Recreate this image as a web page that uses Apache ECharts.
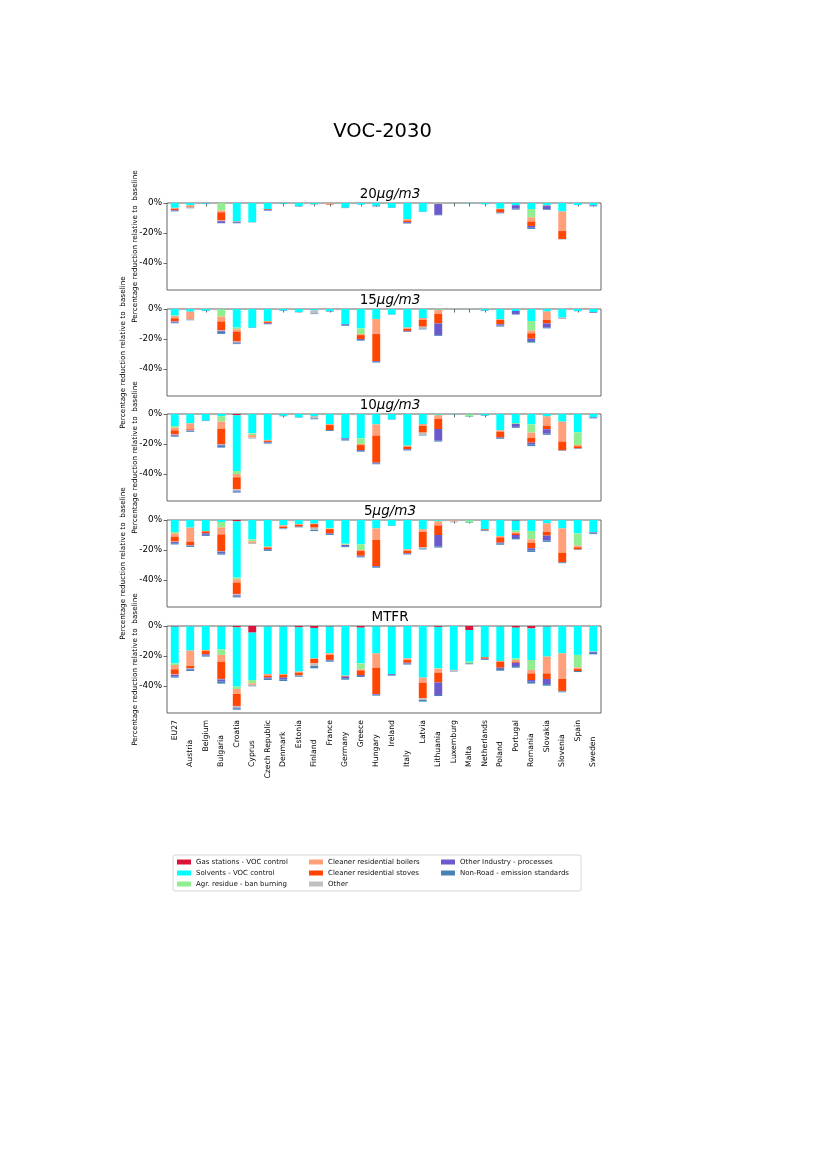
<!DOCTYPE html>
<html><head><meta charset="utf-8">
<script src="https://cdn.jsdelivr.net/npm/echarts@6/dist/echarts.min.js"></script>
<style>html,body{margin:0;padding:0;background:#fff}#c{width:827px;height:1169px}</style>
</head><body><div id="c"></div>
<script>
const countries = ['EU27','Austria','Belgium','Bulgaria','Croatia','Cyprus','Czech Republic','Denmark','Estonia','Finland','France','Germany','Greece','Hungary','Ireland','Italy','Latvia','Lithuania','Luxemburg','Malta','Netherlands','Poland','Portugal','Romania','Slovakia','Slovenia','Spain','Sweden'];
const panelNames = ['20', '15', '10', '5', 'MTFR'];
const measures = ['Gas stations - VOC control','Solvents - VOC control','Agr. residue - ban burning','Cleaner residential boilers','Cleaner residential stoves','Other','Other Industry - processes','Non-Road - emission standards'];
const yTicks = [0, -20, -40];

// Reduction (%) per country, scenario 20 µg/m3
const gas_20   = [0,0,0,0,0,0,0,0,0,0,0,0,0,0,0,0,0,0,0,0,0,0,0,0,0,0,0,0];
const solv_20  = [3.2,1.5,0.5,0,12.2,12.7,4,0.5,2.0,0.8,0.2,3.1,1.1,1.8,3.1,10.8,5.8,0.3,0.1,0.2,0.8,3.8,1.5,4,1.5,5.6,1.3,1.6];
const agr_20   = [0.2,0,0,5,0,0,0,0,0,0,0,0,0,0,0,0,0,0,0,0,0,0,0,5.6,0,0,0,0];
const boil_20  = [0.5,0.9,0,1.2,0.3,0,0,0,0,0,0.6,0,0,0,0,0.9,0,0.4,0,0,0,0.3,0,2.8,0.3,13.1,0,0];
const stove_20 = [0.8,0.5,0,5.5,0,0,0.5,0,0,0,0.3,0,0,0,0,1.1,0,0,0,0,0,2.2,0,2.9,0,5.3,0,0];
const other_20 = [0.2,0.3,0,0.4,0,0,0,0,0,0.4,0,0,0,0,0,0,0,0,0,0,0,0,0,0,0,0,0,0];
const ind_20   = [0.4,0,0,1.2,0.7,0,0.5,0,0,0,0,0,0,0.3,0,0.6,0,7.2,0,0,0,0.3,2.3,1.2,2.3,0,0,0.4];
const nr_20    = [0.3,0.3,0.2,0.2,0.3,0.2,0.2,0.2,0.3,0.1,0.1,0.3,0.1,0.2,0.2,0.3,0.2,0.3,0,0,0.1,0.3,0.6,0.8,0.5,0.2,0.1,0.2];

// 15 µg/m3
const gas_15   = [0,0,0,0,0,0,0,0,0,0,0,0,0,0,0,0,0,0,0,0,0,0,0,0,0,0,0,0];
const solv_15  = [4.4,1.8,1.1,0.3,12.4,12.4,8,1.0,2.0,0.8,1.3,10.2,12.9,6.7,3.6,12.4,6,0.3,0.1,0.1,1.0,6.9,1.3,8,1.6,5.8,1.3,2.0];
const agr_15   = [0.3,0,0,4.7,1.1,0,0,0,0,0,0,0,3.8,0,0,0,0,0.3,0,0,0,0,0,6.4,0,0,0,0];
const boil_15  = [1.5,4.9,0,3.3,1.5,0,0.6,0,0,0,0,0,0.7,10,0,0.9,1.3,2.7,0,0,0,0.3,0,1.8,5.7,0.6,0,0];
const stove_15 = [2,0.2,0,6.0,6.7,0,0.7,0,0,0,0,0,2.6,18,0,1.3,4.5,6.3,0,0,0,3.0,0,3.6,2.3,0,0,0];
const other_15 = [0.2,0.3,0,0.3,0.6,0,0,0,0,2.2,0,0,0,0,0,0,1.3,0,0,0,0,0,0,0,0,0,0,0];
const ind_15   = [0.7,0,0,0.6,0.6,0,0.5,0,0,0,0,0.6,0.6,0.5,0,0.4,0,7.7,0,0,0,0.8,2.0,1.5,2.8,0,0,0.4];
const nr_15    = [0.4,0.3,0.3,1.4,0.5,0.2,0.4,0.3,0.2,0.4,0.4,0.5,0.5,0.5,0.2,0.3,0.5,0.6,0,0,0.3,0.7,0.4,1.1,0.5,0.2,0.2,0.2];

// 10 µg/m3
const gas_10   = [0,0,0,0,0.8,0,0,0,0,0,0,0,0,0,0,0,0,0,0,0,0,0,0,0,0,0,0,0];
const solv_10  = [8,6.2,4.4,1.5,37.2,12.9,17.3,1.2,2.2,1.3,6.7,16.2,16.2,6.9,3.6,21.1,6.7,0.5,0.2,0.3,1.0,10.9,6,6.9,1.6,5.1,12.2,2.2];
const agr_10   = [1.1,0,0,3.5,2.0,1.1,0,0,0,0,0,0,3.8,0,0,0,0,0.3,0,1.5,0,0,0.6,5.5,0,0,8.5,0];
const boil_10  = [1.8,4,0,4.8,2.2,1.8,0.6,0,0,0,0.7,0,0.7,7.5,0,0.7,1.3,2.5,0,0,0,0.9,0,3.4,6.2,13.3,0.8,0];
const stove_10 = [2.7,0.5,0,10.4,8.0,0,0.7,0,0,0,3.3,0,3.3,18,0,1.7,4.4,6.7,0,0,0,3.8,0,3.3,2.4,5.8,1.4,0];
const other_10 = [0.3,0.4,0,0.3,0.9,0.3,0,0,0,1.6,0,0,0,0,0,0,1.5,0,0,0,0,0,0,0,0,0,0,0];
const ind_10   = [0.6,0.4,0,0.6,0.6,0,0.5,0,0,0,0,0.7,0.6,0.5,0,0.4,0,7.8,0,0,0,0.5,2.0,1.3,2.9,0,0,0.4];
const nr_10    = [0.6,0.5,0.3,1.3,0.7,0.2,0.6,0.3,0.2,0.6,0.6,0.8,0.5,0.6,0.2,0.4,0.4,0.6,0,0.2,0.3,0.5,0.6,1.0,0.8,0.3,0.3,0.3];

// 5 µg/m3
const gas_5    = [0,0,0,0,0.9,0,0,0,0,0,0,0,0,0,0,0,0,0,0,0,0,0,0.4,0,0,0,0,0];
const solv_5   = [8,5.1,7.3,1.3,37.5,12.9,17.8,3.6,2.7,2.4,5.3,15.8,16.2,5.6,3.8,19.6,6.2,0.6,0.2,0.3,6.2,10.7,6.7,7.3,2.2,5.6,8.9,8];
const agr_5    = [0.9,0,0,3.6,1.1,1.3,0,0,0,0,0.4,0.6,3.8,0,0,0,0,0.3,0,1.5,0,0,1.1,5.6,0,0,8.2,0];
const boil_5   = [2.2,9.3,0.3,4.7,2.2,1.3,0.6,0.8,0.6,0.3,0.4,0.3,0.7,7.7,0,0.9,1.8,2.7,0.8,0,0,0.9,0.7,2.2,5.8,16.2,1.1,0.3];
const stove_5  = [3.3,2.3,1.3,11.1,7.6,0,1.1,1.0,1.1,2.4,2.8,0,3.1,17.4,0,1.7,10.2,6.4,0,0,0.6,3.5,1.1,3.8,2.4,6.4,1.4,0];
const other_5  = [0.3,0.3,0,0.3,0.9,0.2,0,0.3,0,1.6,0,0,0,0,0,0,0.8,0,0.3,0,0,0,0,0,0,0,0,0];
const ind_5    = [0.8,0.4,1.0,1.2,0.6,0,0.5,0,0,0,0.5,0.7,0.6,0.5,0,0.4,0,7.8,0,0,0.2,0.6,2.0,1.3,3.2,0,0,0.5];
const nr_5     = [0.8,0.6,0.7,0.9,0.8,0.2,0.6,0.4,0.5,0.7,0.6,0.7,0.5,0.6,0.2,0.4,0.6,0.6,0.2,0.2,0.4,0.8,0.9,1.1,1.0,0.6,0.3,0.6];

// MTFR
const gas_m    = [0.4,0.2,0,0.3,0.9,4.4,0.3,0.3,0.9,1.3,0.4,0,1.1,0.2,0.3,0.1,0,0.6,0,2.7,0,0.3,1.1,1.6,0.4,0.1,0,0];
const solv_m   = [24.5,16.2,16,15.3,39.5,31.6,31.7,31.7,29.5,20.3,17.8,33.1,23.8,18.0,31.7,21.5,34.4,27.6,29.3,21.1,20.9,23.0,20.5,21.1,20,18.1,19.3,17.1];
const agr_m    = [1.1,0,0,3.7,1.6,2.2,0,0,0,0,0,0,4.0,0,0,0,0,0.3,0,1.1,0,0,1.1,6.6,0,0,8.3,0];
const boil_m   = [2.9,10.3,0.7,4.5,3.3,1.1,1.1,0.7,0.7,0.3,1.1,0.3,0.7,9.6,0,1.1,3.4,2.6,0.5,0,0,0.5,1.1,2.3,11.2,17.1,1.1,0.3];
const stove_m  = [3.3,1.5,2.2,11.5,8.0,0,1.3,1.7,1.6,3.0,3.3,0.4,3.1,17.5,0,1.8,10.4,6.5,0,0,0.9,4.0,0.7,4.4,3.7,8.0,1.3,0];
const other_m  = [0.3,0.3,0,0.3,1.1,0.5,0,0,0.3,1.8,0,0,0,0,0,0,1.1,0,0.3,0,0,0,0,0,0,0.3,0,0];
const ind_m    = [1.0,0.6,0.8,1.5,0.5,0,0.7,1.3,0,0,0.5,1.0,0.7,0.5,0.5,0.5,0,8.4,0,0,0.3,0.8,2.2,1.2,3.4,0,0,0.6];
const nr_m     = [0.9,0.9,0.7,1.3,0.9,0.4,0.9,1.0,0.8,1.5,0.7,1.0,0.6,0.6,0.6,0.7,1.1,0.7,0.3,0.6,0.5,1.2,1.1,1.2,1.1,0.6,0.7,0.9];

const panels = [
  [gas_20, solv_20, agr_20, boil_20, stove_20, other_20, ind_20, nr_20],
  [gas_15, solv_15, agr_15, boil_15, stove_15, other_15, ind_15, nr_15],
  [gas_10, solv_10, agr_10, boil_10, stove_10, other_10, ind_10, nr_10],
  [gas_5, solv_5, agr_5, boil_5, stove_5, other_5, ind_5, nr_5],
  [gas_m, solv_m, agr_m, boil_m, stove_m, other_m, ind_m, nr_m]
];

const colors = ['#DC143C','#00FFFF','#90EE90','#FFA07A','#FF4500','#C0C0C0','#6A5ACD','#4682B4'];
const FONT = 'DejaVu Sans';
const gridTops = [203, 309, 414, 520, 626];
const gridH = 87, gridL = 167, gridW = 434;

const grids = [], xAxes = [], yAxes = [], series = [], titles = [];
titles.push({ text: 'VOC-2030', left: 377.5, top: 116, textAlign: 'center',
  textStyle: { fontFamily: FONT, fontSize: 19.5, fontWeight: 'normal', color: '#000', lineHeight: 22 } });

panelNames.forEach((pn, p) => {
  grids.push({ left: gridL, top: gridTops[p], width: gridW, height: gridH, show: true,
    borderColor: '#555', borderWidth: 0.9, backgroundColor: 'transparent' });
  const isLast = p === panelNames.length - 1;
  xAxes.push({
    type: 'category', gridIndex: p, data: countries, boundaryGap: true,
    axisLine: { show: false },
    axisTick: { show: true, alignWithLabel: true, inside: false, length: 3.5, lineStyle: { color: '#444', width: 0.8 } },
    axisLabel: {
      show: isLast, interval: 0, rotate: 90, margin: 7, fontFamily: FONT, fontSize: 7.7, color: '#000',
      formatter: (v, i) => (i % 2 === 1 ? '{b|' + v + '}' : '{t|' + v + '}'),
      rich: {
        t: { width: 47, align: 'right', fontFamily: FONT, fontSize: 7.7, color: '#000' },
        b: { width: 47, align: 'left', fontFamily: FONT, fontSize: 7.7, color: '#000' }
      }
    },
    splitLine: { show: false }
  });
  yAxes.push({
    type: 'value', gridIndex: p, min: -58, max: 0, splitNumber: 3, minInterval: 20, maxInterval: 20,
    name: 'Percentage reduction relative to  baseline', nameLocation: 'middle',
    nameMoveOverlap: false,
    nameGap: (p % 2 === 0) ? 28 : 40,
    nameTextStyle: { fontFamily: FONT, fontSize: 7.3, color: '#000' },
    axisLine: { show: false },
    axisTick: { show: true, length: 3.5, lineStyle: { color: '#444', width: 0.8 } },
    axisLabel: { show: true, showMinLabel: false, margin: 5, fontFamily: FONT, fontSize: 8.8, color: '#000',
      formatter: v => (yTicks.indexOf(v) >= 0 ? v + '%' : '') },
    splitLine: { show: false }
  });
  const isNum = pn !== 'MTFR';
  titles.push({
    text: isNum ? '{n|' + pn + '}{i|μg/m3}' : pn,
    left: 385, top: gridTops[p] - 21, textAlign: 'center',
    textStyle: { fontFamily: FONT, fontSize: 13.5, fontWeight: 'normal', color: '#000', lineHeight: 15,
      rich: { n: { fontFamily: FONT, fontSize: 13.5, color: '#000', lineHeight: 15 },
              i: { fontFamily: FONT, fontSize: 13.5, fontStyle: 'italic', color: '#000', lineHeight: 15 } } }
  });
  panels[p].forEach((arr, m) => {
    series.push({
      type: 'bar', name: measures[m], xAxisIndex: p, yAxisIndex: p, stack: 'p' + p,
      barWidth: 7.9, itemStyle: { color: colors[m] },
      emphasis: { disabled: true },
      data: arr.map(v => (v === 0 ? null : -v))
    });
  });
});

const legendOrder = [measures[0], measures[3], measures[6], measures[1], measures[4], measures[7], measures[2], measures[5]];

const chart = echarts.init(document.getElementById('c'), null, { renderer: 'canvas' });
chart.setOption({
  animation: false,
  backgroundColor: '#fff',
  title: titles,
  grid: grids, xAxis: xAxes, yAxis: yAxes, series: series,
  legend: {
    data: legendOrder, left: 173, top: 855, width: 394, orient: 'horizontal',
    padding: [2.5, 10, 2.5, 4], itemGap: 2, itemWidth: 14, itemHeight: 5, icon: 'rect',
    borderColor: '#ccc', borderWidth: 0.8, borderRadius: 2,
    selectedMode: false,
    textStyle: { fontFamily: FONT, fontSize: 7, color: '#111', width: 111, lineHeight: 9, padding: 0 }
  }
});
</script></body></html>
